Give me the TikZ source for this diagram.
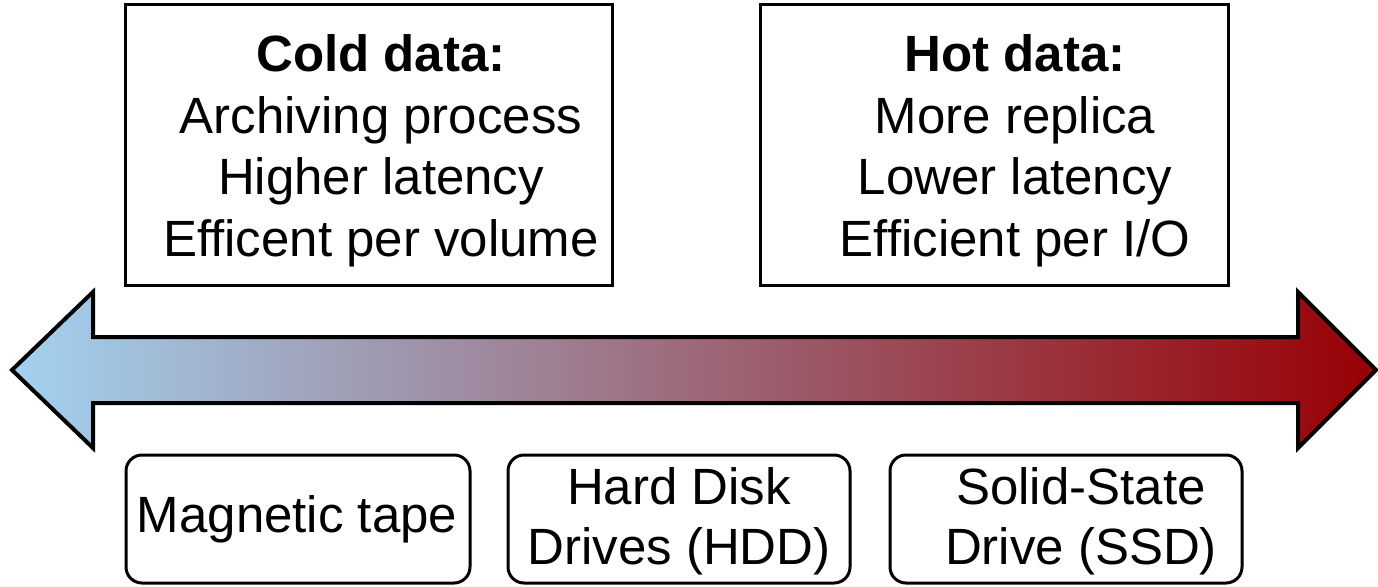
\documentclass[tikz,border=0pt]{standalone}
\usepackage{fontspec}
\setmainfont{Liberation Sans}
\definecolor{coldc}{RGB}{162,210,240}
\definecolor{hotc}{RGB}{152,0,4}
\begin{document}
\begin{tikzpicture}[x=1pt,y=-1pt,
  infobox/.style={draw=black,line width=3pt,inner sep=0pt},
  infotext/.style={align=center,inner sep=0pt,font=\fontsize{51}{61.5}\selectfont},
  mediabox/.style={draw=black,line width=3pt,rounded corners=16pt,inner sep=0pt,
    minimum height=128pt},
  mediatext/.style={align=center,inner sep=0pt,font=\fontsize{51}{60}\selectfont}]
\useasboundingbox (0,0) rectangle (1378,586);
% double arrow
\draw[line width=4pt,line join=miter,left color=coldc,right color=hotc]
  (12,370) -- (93,292) -- (93,337) -- (1298,337) -- (1298,292) -- (1376,370)
  -- (1298,448) -- (1298,403) -- (93,403) -- (93,448) -- cycle;
% top boxes
\node[infobox,minimum width=487pt,minimum height=280pt] (cold) at (368.5,145) {};
\node[infotext] (coldtxt) at (381,151)
  {\textbf{Cold data:}\\Archiving process\\Higher latency\\Efficent per volume};
\node[infobox,minimum width=468pt,minimum height=280pt] (hot) at (994,145) {};
\node[infotext] (hottxt) at (1015,151)
  {\textbf{Hot data:}\\More replica\\Lower latency\\Efficient per I/O};
% bottom boxes
\node[mediabox,minimum width=344pt] (tape) at (298,519) {};
\node[mediatext] (tapetxt) at (297,519) {Magnetic tape};
\node[mediabox,minimum width=342pt] (hdd) at (679,519) {};
\node[mediatext] (hddtxt) at (679,521) {Hard Disk\\Drives (HDD)};
\node[mediabox,minimum width=352pt] (ssd) at (1066,519) {};
\node[mediatext] (ssdtxt) at (1081,521) {Solid-State\\Drive (SSD)};
\end{tikzpicture}
\end{document}
